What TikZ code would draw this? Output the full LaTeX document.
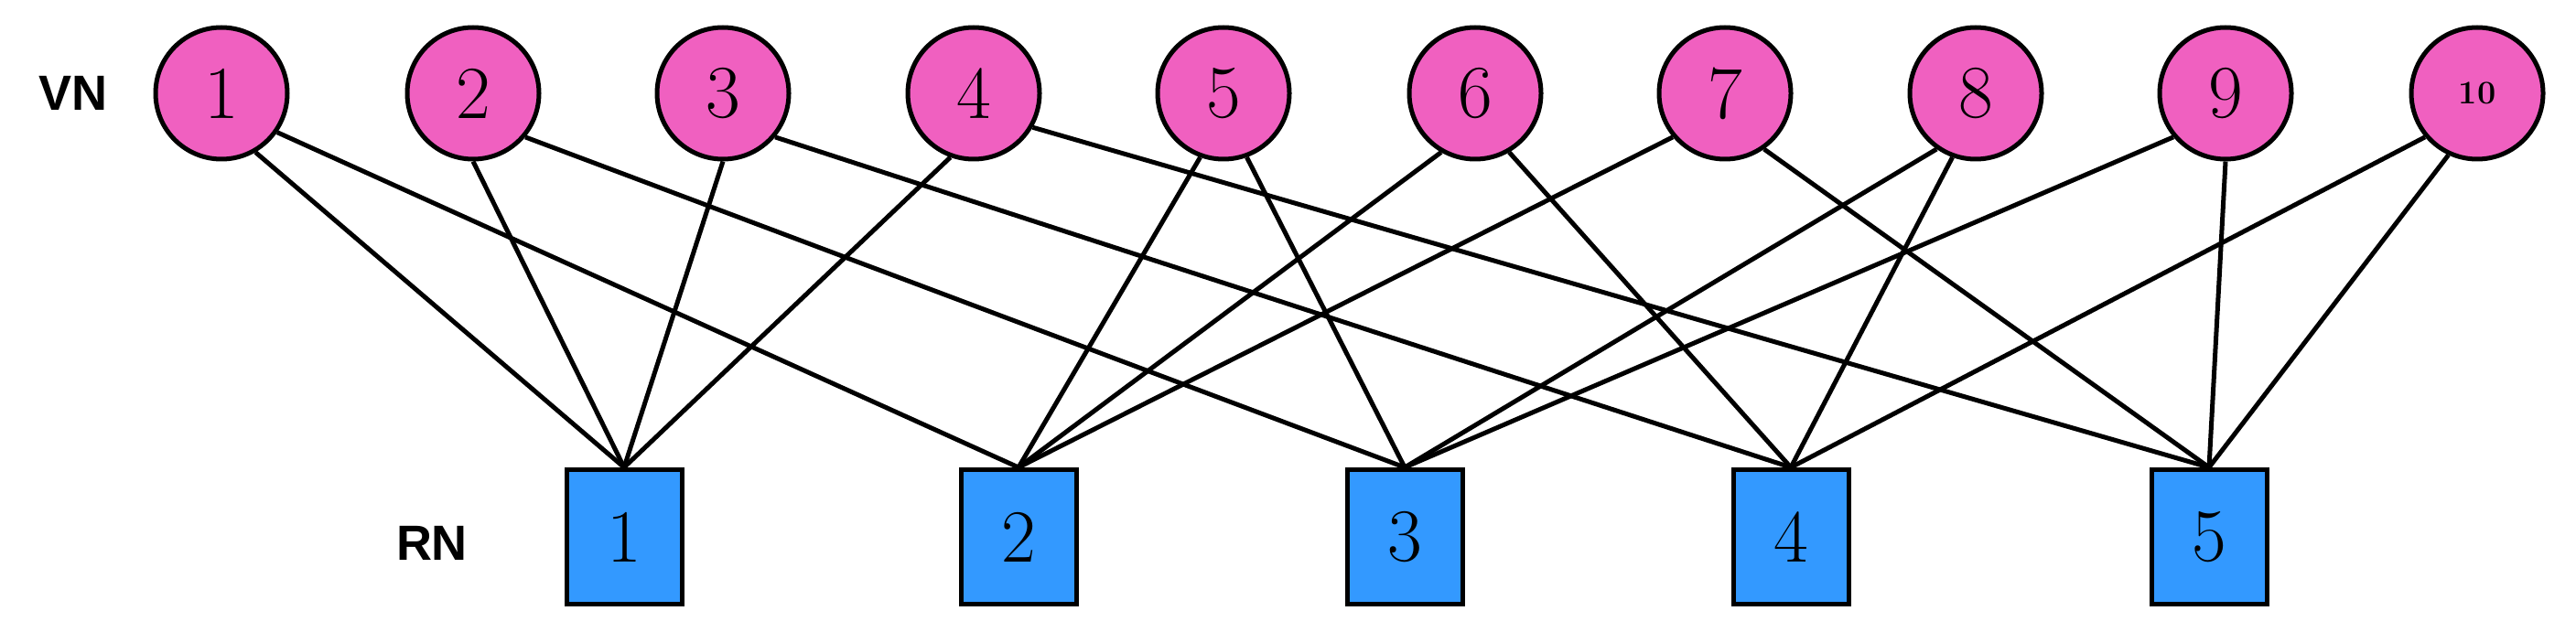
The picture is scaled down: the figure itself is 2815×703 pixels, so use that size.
\documentclass[tikz,border=0pt]{standalone}
\usepackage{fontspec}
\newfontfamily\sansf{Liberation Sans}
\begin{document}
\begin{tikzpicture}[x=1pt,y=-1pt,
 vn/.style={circle,draw,line width=5pt,fill={rgb,255:red,240;green,96;blue,192},minimum size=144pt,inner sep=0pt,font=\fontsize{82}{82}\selectfont},
 rn/.style={rectangle,draw,line width=5pt,fill={rgb,255:red,51;green,153;blue,255},minimum width=126pt,minimum height=147pt,inner sep=0pt,font=\fontsize{82}{82}\selectfont},
 lab/.style={font=\sansf\bfseries\fontsize{54}{54}\selectfont},
 ed/.style={line width=5pt}]
\useasboundingbox (0,0) rectangle (2815,703);
\foreach \i/\x in {1/242,2/517,3/790,4/1064,5/1337,6/1612,7/1885,8/2159,9/2432}
  \node[vn] (v\i) at (\x,102) {\i};
\node[vn,font=\bfseries\fontsize{36}{36}\selectfont] (v10) at (2707,102) {10};
\foreach \i/\x in {1/682,2/1113,3/1535,4/1957,5/2414}
  \node[rn] (r\i) at (\x,587) {\i};
\node[lab] (vl) at (80,102) {VN};
\node[lab] (rl) at (472,594) {RN};
\foreach \a/\b/\ang in {1/1/-60,1/2/-35,2/1/-90,2/3/-40,3/1/-90,3/4/-40,4/1/-110,4/5/-30,5/2/-110,5/3/-70,6/2/-120,6/4/-60,7/2/-140,7/5/-55,8/3/-125,8/4/-110,9/3/-140,9/5/-90,10/4/-140,10/5/-115}
  \draw[ed] (v\a.\ang) -- (r\b.north);
\end{tikzpicture}
\end{document}
